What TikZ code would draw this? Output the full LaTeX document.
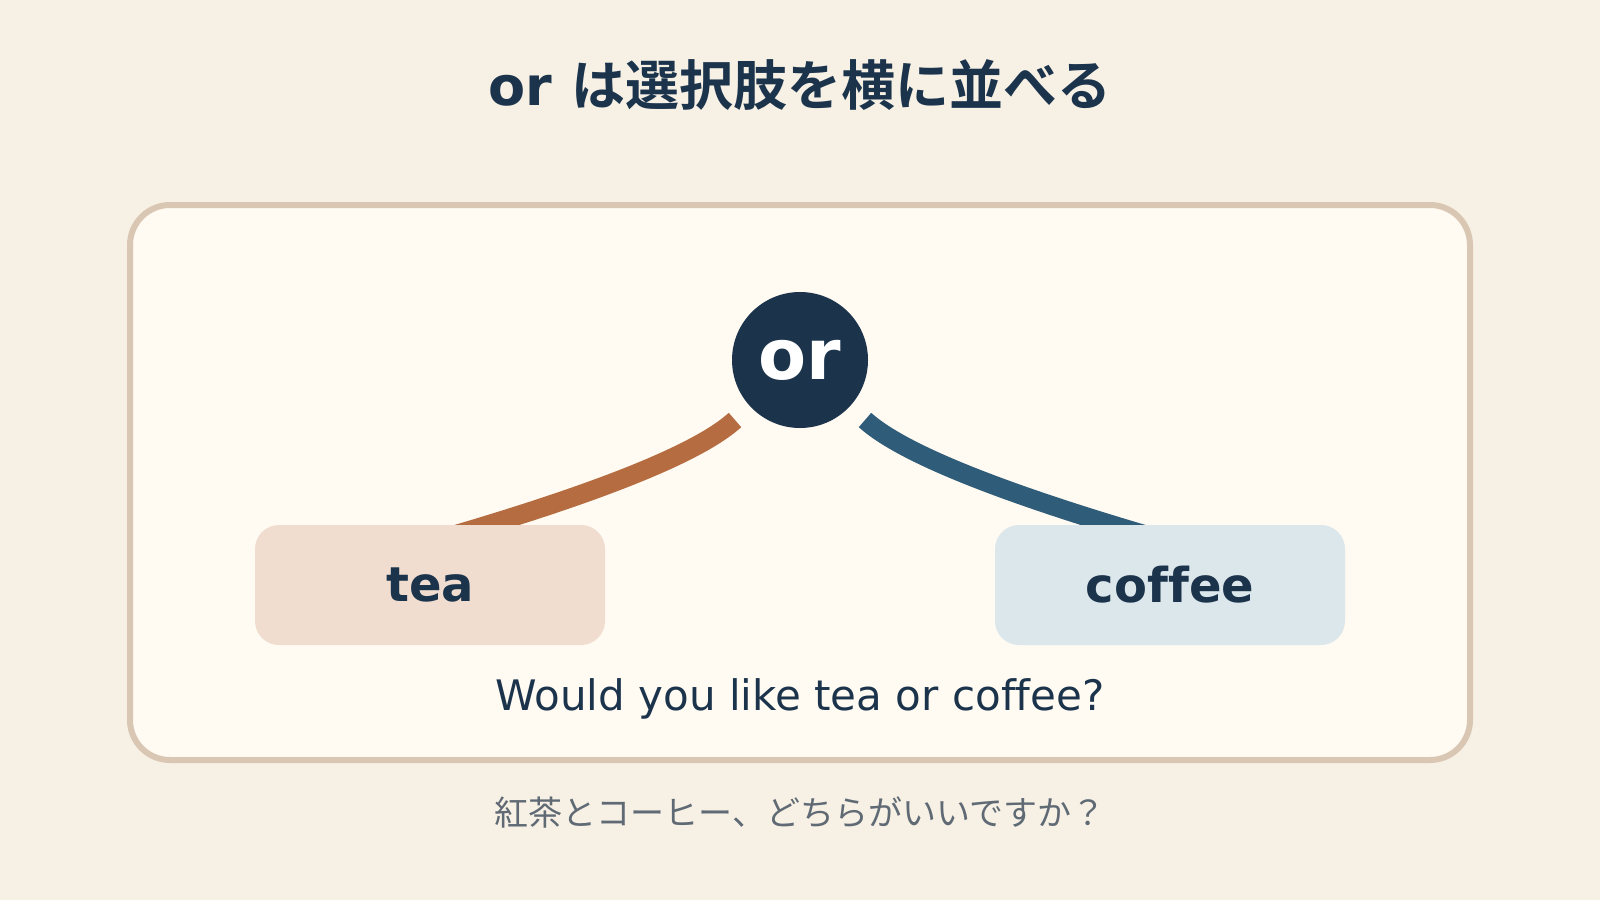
\documentclass[tikz,border=0pt]{standalone}
\usepackage{fontspec}
\setmainfont{DejaVu Sans}[Ligatures=NoCommon]
\newfontfamily\jpfont{Noto Sans CJK JP}[BoldFont={Noto Sans CJK JP Bold}]
\definecolor{pagebg}{HTML}{F7F0E5}
\definecolor{panelfill}{HTML}{FFFAF2}
\definecolor{panelline}{HTML}{D9C7B4}
\definecolor{navy}{HTML}{1B344C}
\definecolor{teafill}{HTML}{F0DDD0}
\definecolor{coffeefill}{HTML}{DCE7EC}
\definecolor{tealine}{HTML}{B46C40}
\definecolor{coffeeline}{HTML}{2F5C78}
\definecolor{subgray}{HTML}{5F6A74}

\begin{document}
\begin{tikzpicture}[x=1pt,y=-1pt,
    choice/.style={rounded corners=24pt,minimum width=350pt,minimum height=120pt,
      inner sep=0pt,text=navy,font=\fontsize{48}{52}\selectfont\bfseries},
    branch/.style={line width=19pt}]
  \fill[pagebg] (0,0) rectangle (1600,900);
  \useasboundingbox (0,0) rectangle (1600,900);
  \node[anchor=base,text=navy,font=\fontsize{54}{58}\selectfont\bfseries] (title) at (800,105) {or {\jpfont は選択肢を横に並べる}};
  \draw[draw=panelline,fill=panelfill,line width=6pt,rounded corners=40pt] (130,205) rectangle (1470,760);
  \coordinate (teastart) at (735,420);
  \coordinate (teaend) at (430,542);
  \coordinate (coffeestart) at (865,420);
  \coordinate (coffeeend) at (1170,542);
  \draw[branch,tealine] (teastart) .. controls (698.3,453.3) and (596.7,494) .. (teaend);
  \draw[branch,coffeeline] (coffeestart) .. controls (901.7,453.3) and (1003.3,494) .. (coffeeend);
  \node[circle,fill=navy,text=white,minimum size=136pt,inner sep=0pt,font=\fontsize{70}{74}\selectfont\bfseries] (or) at (800,360) {or};
  \node[choice,fill=teafill] (tea) at (430,585) {tea};
  \node[choice,fill=coffeefill] (coffee) at (1170,585) {coffee};
  \node[anchor=base,text=navy,font=\fontsize{42}{46}\selectfont] (sentence) at (800,710) {Would you like tea or coffee?};
  \node[anchor=base,text=subgray,font=\jpfont\fontsize{34}{38}\selectfont] (jp) at (800,825) {紅茶とコーヒー、どちらがいいですか？};
\end{tikzpicture}
\end{document}
